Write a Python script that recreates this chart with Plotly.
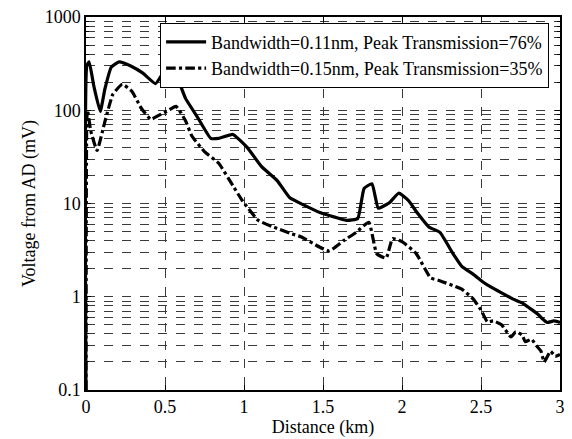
import plotly.graph_objects as go

# Series 1: Bandwidth=0.11nm, Peak Transmission=76%
x1 = [0.0, 0.005, 0.02, 0.05, 0.09, 0.12, 0.16, 0.21, 0.28, 0.36, 0.44, 0.48, 0.52, 0.56, 0.59,
      0.63, 0.71, 0.79, 0.84, 0.93, 1.02, 1.11, 1.21, 1.29, 1.38, 1.48, 1.58, 1.65, 1.72, 1.76,
      1.81, 1.85, 1.92, 1.98, 2.04, 2.1, 2.17, 2.24, 2.32, 2.38, 2.45, 2.51, 2.57, 2.63, 2.7,
      2.76, 2.81, 2.86, 2.88, 2.92, 2.96, 3.0]
y1 = [0.1, 300, 330, 180, 97, 170, 290, 330, 300, 250, 193, 240, 300, 270, 200,
      134, 82, 50, 50, 55, 40, 25, 17.6, 11.5, 9.6, 8.0, 7.1, 6.6, 6.9, 14.5,
      16.3, 8.9, 10.2, 12.9, 10.8, 7.8, 5.6, 4.9, 2.95, 2.1, 1.75, 1.45, 1.25, 1.1, 0.95,
      0.86, 0.75, 0.65, 0.6, 0.53, 0.55, 0.53]

# Series 2: Bandwidth=0.15nm, Peak Transmission=35%
x2 = [0.0, 0.005, 0.01, 0.03, 0.07, 0.12, 0.17, 0.23, 0.29, 0.35, 0.41, 0.46, 0.51, 0.57,
      0.63, 0.67, 0.75, 0.84, 0.93, 0.99, 1.09, 1.21, 1.29, 1.36, 1.48, 1.54, 1.63, 1.71, 1.79,
      1.84, 1.9, 1.94, 2.0, 2.09, 2.18, 2.23, 2.28, 2.33, 2.38, 2.45, 2.5, 2.54, 2.58, 2.63,
      2.69, 2.72, 2.76, 2.78, 2.82, 2.85, 2.88, 2.9, 2.94, 2.97, 3.0]
y2 = [0.1, 80, 100, 60, 37, 76, 148, 190, 160, 105, 80, 88, 97, 110,
      77, 53, 36, 27, 15.5, 10.7, 6.6, 5.4, 4.8, 4.4, 3.4, 3.1, 4.0, 4.9, 6.3,
      2.9, 2.6, 4.2, 3.9, 2.9, 1.6, 1.5, 1.4, 1.3, 1.2, 0.95, 0.72, 0.54, 0.55, 0.5,
      0.37, 0.42, 0.39, 0.33, 0.35, 0.3, 0.26, 0.2, 0.26, 0.23, 0.24]

x_ticks = [0, 0.5, 1, 1.5, 2, 2.5, 3]
x_tick_labels = ["0", "0.5", "1", "1.5", "2", "2.5", "3"]
y_ticks = [0.1, 1, 10, 100, 1000]
y_tick_labels = ["0.1", "1", "10", "100", "1000"]
y_minor = [m * 10 ** e for e in range(-1, 3) for m in range(2, 10)]

FONT = "Times New Roman, Liberation Serif, serif"
GRID = "#3a3a3a"

fig = go.Figure()
fig.add_trace(go.Scatter(x=x1, y=y1, mode="lines",
                         name="Bandwidth=0.11nm, Peak Transmission=76%",
                         line=dict(color="black", width=3.2, shape="spline", smoothing=0.4)))
fig.add_trace(go.Scatter(x=x2, y=y2, mode="lines",
                         name="Bandwidth=0.15nm, Peak Transmission=35%",
                         line=dict(color="black", width=3.2, dash="dashdot", shape="spline", smoothing=0.4)))

fig.update_layout(
    width=572, height=439,
    margin=dict(l=86, r=7, t=15, b=48),
    paper_bgcolor="white", plot_bgcolor="white",
    font=dict(family=FONT, size=18, color="black"),
    showlegend=True,
    legend=dict(x=0.977, y=0.985, xanchor="right", yanchor="top",
                bgcolor="white", bordercolor="black", borderwidth=1,
                font=dict(family=FONT, size=18), tracegroupgap=0, itemwidth=40),
)
fig.update_xaxes(
    range=[0, 3], tickvals=x_ticks, ticktext=x_tick_labels,
    showline=True, linecolor="black", linewidth=1.5, mirror="allticks",
    ticks="inside", ticklen=5, tickcolor="black",
    showgrid=True, gridcolor=GRID, griddash="dash", gridwidth=1,
    zeroline=False,
    title=dict(text="Distance (km)", font=dict(family=FONT, size=18), standoff=2),
    tickfont=dict(family=FONT, size=18),
)
fig.update_yaxes(
    type="log", range=[-1, 3], tickvals=y_ticks, ticktext=y_tick_labels,
    showline=True, linecolor="black", linewidth=1.5, mirror="allticks",
    ticks="inside", ticklen=5, tickcolor="black",
    showgrid=True, gridcolor=GRID, griddash="dash", gridwidth=1,
    zeroline=False,
    minor=dict(tickvals=y_minor, ticks="inside", ticklen=3, tickcolor="black",
               showgrid=True, gridcolor=GRID, griddash="dash", gridwidth=1),
    title=dict(text="Voltage from AD (mV)", font=dict(family=FONT, size=18), standoff=4),
    tickfont=dict(family=FONT, size=18),
)

fig.write_html("out.html")
